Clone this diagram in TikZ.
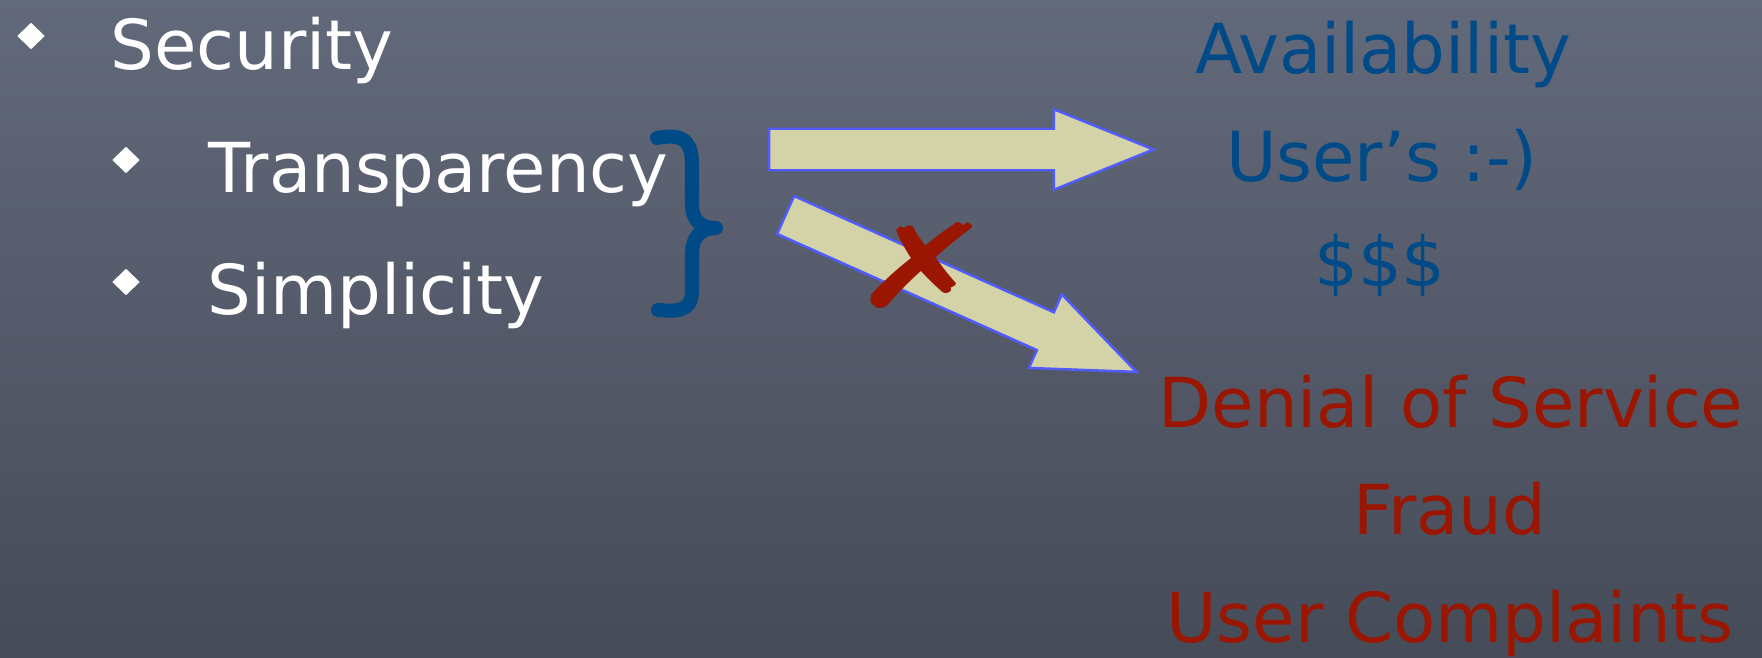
\documentclass[tikz,border=0pt]{standalone}
\usepackage{fontspec}
\setmainfont{DejaVu Sans}
\usetikzlibrary{shapes.geometric,shapes.arrows}

\definecolor{board}{RGB}{98,105,122}
\definecolor{boarddark}{RGB}{70,75,88}
\definecolor{goodblue}{RGB}{0,74,135}
\definecolor{badred}{RGB}{155,22,0}
\definecolor{arrowfill}{RGB}{212,211,168}
\definecolor{arrowedge}{RGB}{80,92,255}
\newcommand{\chalk}{\fontsize{19.6pt}{24pt}\selectfont}

\begin{document}
\begin{tikzpicture}[x=0.01cm, y=-0.01cm,
  every node/.style={inner sep=0pt, font=\chalk},
  item/.style={anchor=base west, text=white},
  good/.style={anchor=base, text=goodblue},
  bad/.style={anchor=base, text=badred},
  bullet/.style={diamond, fill=white, minimum width=0.28cm, minimum height=0.27cm},
  blockarrow/.style={single arrow, draw=arrowedge, fill=arrowfill, line width=0.7pt,
    inner xsep=0pt, inner ysep=0.195cm, text height=0pt, text depth=0pt,
    minimum height=3.84cm, single arrow head extend=0.195cm,
    single arrow tip angle=44, anchor=tail},
  bracket/.style={draw=goodblue, line width=0.14cm, line cap=round, line join=round}]
  \shade[top color=board, bottom color=boarddark] (0,0) rectangle (1762,658);
  \useasboundingbox (0,0) rectangle (1762,658);

  \node[bullet] (b0) at (31,36) {};
  \node[item] (sec) at (110,70) {Security};
  \node[bullet] (b1) at (126,160) {};
  \node[item] (trans) at (208,193) {Transparency};
  \node[bullet] (b2) at (126,282) {};
  \node[item] (simp) at (207,315) {Simplicity};

  \draw[bracket] (657,138) .. controls (688,132) and (692,146) .. (692,166) -- (692,204)
    .. controls (692,220) and (700,228) .. (716,228)
    .. controls (700,228) and (692,238) .. (692,254) -- (692,290)
    .. controls (692,306) and (686,313) .. (658,310);

  \node[good] (avail) at (1383,74) {Availability};
  \node[good] (happy) at (1382,182) {User's :-)};
  \node[good] (money) at (1380,287) {\$\$\$};
  \node[bad] (dos) at (1451,428) {Denial of Service};
  \node[bad] (fraud) at (1450,535) {Fraud};
  \node[bad] (compl) at (1450,643) {User Complaints};

  \coordinate (from1) at (768,149.5);
  \coordinate (from2) at (784.5,214.5);
  \node[blockarrow] (ok) at (from1) {};
  \node[blockarrow, rotate=-24.1] (fail) at (from2) {};
  \node[text=badred, font=\fontsize{33pt}{36pt}\selectfont, xscale=1.5] (nope) at (923,266) {✗};
\end{tikzpicture}
\end{document}
